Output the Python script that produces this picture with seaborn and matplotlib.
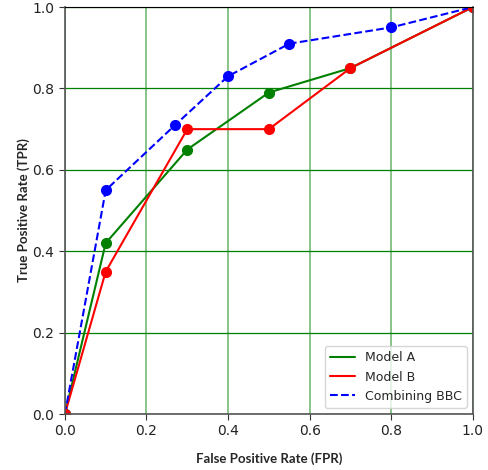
import pandas as pd
import matplotlib
matplotlib.use("Agg")
import matplotlib.pyplot as plt
import seaborn as sns

# ROC points
fpr_a = [0.0, 0.1, 0.3, 0.5, 0.7, 1.0]
tpr_a = [0.0, 0.42, 0.65, 0.79, 0.85, 1.0]

fpr_b = [0.0, 0.1, 0.3, 0.5, 0.7, 1.0]
tpr_b = [0.0, 0.35, 0.70, 0.70, 0.85, 1.0]

fpr_bbc = [0.0, 0.1, 0.27, 0.4, 0.55, 0.8, 1.0]
tpr_bbc = [0.0, 0.55, 0.71, 0.83, 0.91, 0.95, 1.0]

sns.set_style("white")
plt.rcParams['font.family'] = ['DejaVu Sans']

fig = plt.figure(figsize=(4.88, 4.70), dpi=100)
ax = fig.add_axes([0.133, 0.119, 0.836, 0.866])

# grid lines
ax.set_axisbelow(True)
ax.yaxis.grid(True, color='green', linewidth=0.9)
ax.xaxis.grid(True, color='green', alpha=0.5, linewidth=1.3)

df_a = pd.DataFrame({"fpr": fpr_a, "tpr": tpr_a})
df_b = pd.DataFrame({"fpr": fpr_b, "tpr": tpr_b})
df_c = pd.DataFrame({"fpr": fpr_bbc, "tpr": tpr_bbc})

sns.lineplot(data=df_a, x="fpr", y="tpr", sort=False, color='green', lw=1.5, label="Model A", ax=ax)
sns.lineplot(data=df_b, x="fpr", y="tpr", sort=False, color='red', lw=1.5, label="Model B", ax=ax)
sns.lineplot(data=df_c, x="fpr", y="tpr", sort=False, color='blue', lw=1.5, linestyle='--', label="Combining BBC", ax=ax)

# point markers (red ends up on top at the shared corners)
ax.plot(fpr_bbc, tpr_bbc, 'o', color='blue', ms=7)
ax.plot(fpr_a, tpr_a, 'o', color='green', ms=7)
ax.plot(fpr_b, tpr_b, 'o', color='red', ms=7)

ax.set_xlim(0, 1)
ax.set_ylim(0, 1)
ax.set_xticks([0, 0.2, 0.4, 0.6, 0.8, 1.0])
ax.set_yticks([0, 0.2, 0.4, 0.6, 0.8, 1.0])
ax.tick_params(axis='both', labelsize=10, colors='#333333', length=4, left=True, bottom=True)
ax.tick_params(axis='both', labelcolor='#222222')

for side in ['left', 'bottom', 'right']:
    ax.spines[side].set_color('#555555')
    ax.spines[side].set_linewidth(1.2)
ax.spines['top'].set_color('black')

ax.set_xlabel("False Positive Rate (FPR)", fontweight='bold', fontsize=9.5,
              family=['Lato', 'DejaVu Sans'])
ax.set_ylabel("True Positive Rate (TPR)", fontweight='bold', fontsize=9.5,
              family=['Lato', 'DejaVu Sans'])
ax.xaxis.set_label_coords(0.5, -0.093)
ax.yaxis.set_label_coords(-0.086, 0.5)

leg = ax.legend(loc='lower right', fontsize=9, frameon=True, fancybox=True)
leg.get_frame().set_edgecolor('#cccccc')

fig.savefig("out.png", dpi=100)
